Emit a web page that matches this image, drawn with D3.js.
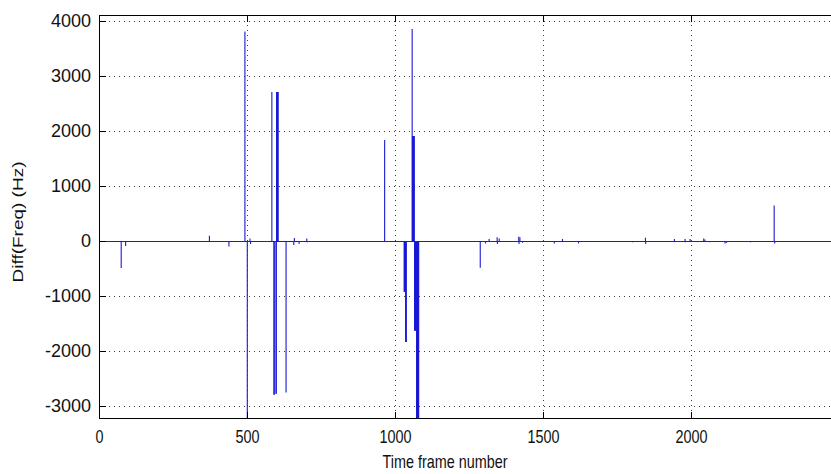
<!DOCTYPE html>
<html>
<head>
<meta charset="utf-8">
<script src="https://cdn.jsdelivr.net/npm/d3@7"></script>
<style>
  html, body { margin: 0; padding: 0; background: #fff; overflow: hidden; }
  text { font-family: "Liberation Sans", Arial, Helvetica, sans-serif; fill: #111; }
</style>
</head>
<body>
<svg id="chart" width="831" height="474"></svg>
<script>
// Axis ranges and ticks
const frameRange = [0, 2500];
const diffRange = [-3240, 4100];
const xTicks = [0, 500, 1000, 1500, 2000];
const yTicks = [-3000, -2000, -1000, 0, 1000, 2000, 3000, 4000];
const lastFrame = 2490;

// Frames where the frequency jumps, and the jump size (Hz); all other frames are 0
const spikeFrames = [
  75, 90, 373, 439, 493, 501, 510, 512,
  584, 591, 592, 598, 599, 600, 601, 602, 603, 604, 605,
  632, 658, 660, 676, 702, 703,
  965,
  1031, 1032, 1033, 1034, 1035, 1036, 1037, 1038,
  1058, 1059, 1060, 1061, 1062, 1063, 1064, 1065,
  1066, 1067, 1068, 1069, 1070, 1071, 1072,
  1073, 1074, 1075, 1076, 1077, 1078, 1079, 1080,
  1288, 1306, 1318, 1345, 1346, 1352, 1418, 1419, 1422, 1431,
  1538, 1566, 1567, 1620, 1803, 1846, 1847, 1944, 1980, 1981, 1997,
  2043, 2047, 2064, 2115, 2120, 2201, 2281, 2283
];
const spikeDiffs = [
  -495, -95, 90, -105, 3800, -3400, 40, -60,
  2700, -2800, -2800, -2780, -2780, 2700, 2700, 2700, 2700, 2700, 2700,
  -2760, -80, 50, -60, 40, -30,
  1830,
  -930, -930, -930, -930, -930, -1840, -1840, -1840,
  3845, 1900, 1900, 1900, 1900, 1900, 1900, 1900,
  -1630, -1630, -1630, -1630, -1630, -1630, -1630,
  -3400, -3400, -3400, -3400, -3400, -3400, -3400, -3400,
  -490, -50, 30, 60, -60, 40, 70, -60, 60, -40,
  -50, 30, -20, -50, -30, 55, -60, 30, 30, -30, 30,
  40, 20, -30, -50, -40, -30, 640, -50
];

const margin = { left: 99, top: 15 };
const plotW = 740, plotH = 404;
const lineColor = "#1a1ad4";
const plain = d => String(d);

const svg = d3.select("#chart");
const g = svg.append("g").attr("transform", `translate(${margin.left},${margin.top})`);

const x = d3.scaleLinear().domain(frameRange).range([0, plotW]);
const y = d3.scaleLinear().domain(diffRange).range([plotH, 0]);

svg.append("defs").append("clipPath").attr("id", "plotClip")
  .append("rect").attr("width", plotW).attr("height", plotH);

// dotted grid
const grid = g.append("g").attr("stroke", "#000").attr("stroke-width", 1)
  .attr("stroke-dasharray", "1,4").attr("shape-rendering", "crispEdges").attr("opacity", 0.75);
grid.selectAll("line.v").data(xTicks.filter(d => d > 0)).join("line")
  .attr("class", "v")
  .attr("x1", d => Math.round(x(d)) + 0.5).attr("x2", d => Math.round(x(d)) + 0.5)
  .attr("y1", 0).attr("y2", plotH);
grid.selectAll("line.h").data(yTicks).join("line")
  .attr("class", "h")
  .attr("y1", d => Math.round(y(d)) + 0.5).attr("y2", d => Math.round(y(d)) + 0.5)
  .attr("x1", 0).attr("x2", plotW);

// signal: zero baseline with vertical jumps
const data = g.append("g").attr("clip-path", "url(#plotClip)");
data.append("line")
  .attr("x1", x(0)).attr("x2", x(lastFrame))
  .attr("y1", Math.round(y(0)) + 0.5).attr("y2", Math.round(y(0)) + 0.5)
  .attr("stroke", lineColor).attr("stroke-width", 1.2);
const spikes = spikeFrames.map((f, i) => ({ f, v: spikeDiffs[i] }));
data.selectAll("line.spike").data(spikes).join("line")
  .attr("class", "spike")
  .attr("x1", d => x(d.f)).attr("x2", d => x(d.f))
  .attr("y1", Math.round(y(0)) + 0.5).attr("y2", d => y(d.v))
  .attr("stroke", lineColor).attr("stroke-width", 1.1);

// axes (ticks point inward)
const xAxis = g.append("g").attr("transform", `translate(0,${plotH})`)
  .call(d3.axisBottom(x).tickValues(xTicks).tickFormat(plain)
    .tickSizeInner(-7).tickSizeOuter(0).tickPadding(11));
xAxis.selectAll("text").attr("font-size", 18).attr("transform", "scale(0.8,1)");

g.append("g")
  .call(d3.axisTop(x).tickValues(xTicks).tickSizeInner(-7).tickSizeOuter(0).tickFormat(""));

const yAxis = g.append("g")
  .call(d3.axisLeft(y).tickValues(yTicks).tickFormat(plain)
    .tickSizeInner(-7).tickSizeOuter(0).tickPadding(8));
yAxis.selectAll("text").attr("font-size", 18);

g.selectAll(".domain").remove();
g.selectAll(".tick line").attr("stroke", "#000").attr("shape-rendering", "crispEdges");

// axes box
g.append("rect")
  .attr("x", 0.5).attr("y", 0.5).attr("width", plotW).attr("height", plotH - 1)
  .attr("fill", "none").attr("stroke", "#000").attr("stroke-width", 1)
  .attr("shape-rendering", "crispEdges");

// axis titles
svg.append("text")
  .attr("transform", "translate(445,468) scale(0.8,1)")
  .attr("text-anchor", "middle").attr("font-size", 18)
  .text("Time frame number");

svg.append("text")
  .attr("transform", "translate(23,222) rotate(-90) scale(1,0.8)")
  .attr("text-anchor", "middle").attr("font-size", 19)
  .text("Diff(Freq) (Hz)");
</script>
</body>
</html>
